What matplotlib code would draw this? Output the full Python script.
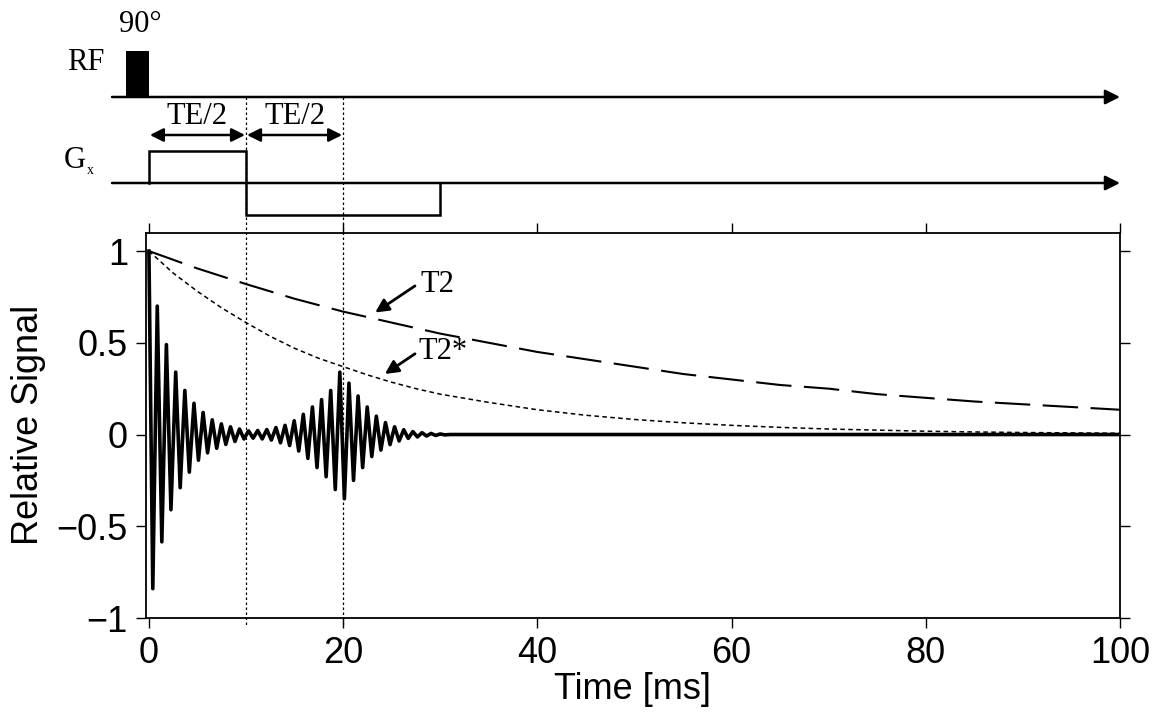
import matplotlib
matplotlib.use("Agg")
import matplotlib.pyplot as plt

# --- signal: extrema of the oscillating echo signal (ms, relative amplitude)
sig_t = [0.00, 0.40, 0.86, 1.33, 1.80, 2.27, 2.76, 3.22, 3.70, 4.16,
         4.64, 5.10, 5.58, 6.04, 6.52, 6.98, 7.46, 7.92, 8.40, 8.86,
         9.33, 9.79, 10.26, 10.73, 11.20, 11.67, 12.14, 12.61, 13.08, 13.55,
         14.02, 14.49, 14.96, 15.43, 15.90, 16.37, 16.84, 17.31, 17.78, 18.25,
         18.72, 19.19, 19.66, 20.13, 20.60, 21.07, 21.54, 22.01, 22.48, 22.95,
         23.42, 23.89, 24.36, 24.83, 25.30, 25.77, 26.24, 26.71, 27.18, 27.65,
         28.12, 28.59, 29.06, 29.53, 30.00, 30.47, 31.00, 100.0]
sig_v = [1.00, -0.84, 0.70, -0.585, 0.49, -0.41, 0.34, -0.29, 0.24, -0.205,
         0.17, -0.14, 0.12, -0.10, 0.08, -0.075, 0.058, -0.054, 0.042, -0.038,
         0.030, -0.024, 0.020, -0.020, 0.022, -0.024, 0.027, -0.030, 0.038, -0.045,
         0.050, -0.060, 0.075, -0.090, 0.11, -0.13, 0.15, -0.18, 0.19, -0.23,
         0.24, -0.30, 0.34, -0.35, 0.28, -0.25, 0.21, -0.18, 0.15, -0.12,
         0.10, -0.085, 0.065, -0.055, 0.042, -0.035, 0.026, -0.021, 0.016, -0.013,
         0.010, -0.008, 0.006, -0.005, 0.003, -0.002, 0.0, 0.0]

# --- decay envelopes
t2_t = [0, 5, 10, 15, 20, 25, 30, 35, 40, 45, 50, 55, 60, 65, 70, 75, 80, 85, 90, 95, 100]
t2_v = [1.00, 0.905, 0.82, 0.74, 0.67, 0.61, 0.55, 0.50, 0.45, 0.41, 0.37,
        0.33, 0.30, 0.27, 0.25, 0.22, 0.20, 0.18, 0.165, 0.15, 0.135]
t2s_t = [0, 2.5, 5, 7.5, 10, 12.5, 15, 17.5, 20, 22.5, 25, 27.5, 30,
         35, 40, 45, 50, 55, 60, 65, 70, 75, 80, 85, 90, 95, 100]
t2s_v = [1.0, 0.88, 0.78, 0.69, 0.61, 0.535, 0.47, 0.415, 0.37, 0.325, 0.285, 0.25, 0.22,
         0.175, 0.135, 0.105, 0.082, 0.064, 0.05, 0.039, 0.030, 0.024, 0.018, 0.014,
         0.011, 0.009, 0.007]

# --- pulse sequence timing (ms)
rf_pulse = [-2.4, 0.0]
gx_start = [0, 10]
gx_end = [10, 30]
gx_amp = [1.0, -1.0]
te_marks = [0, 10, 20]
seq_start, seq_end = -3.8, 100

xticks = [0, 20, 40, 60, 80, 100]
yticks = [-1, -0.5, 0, 0.5, 1]
ytick_labels = ["\u22121", "\u22120.5", "0", "0.5", "1"]

SANS = ["Liberation Sans", "DejaVu Sans"]
SERIF = ["Liberation Serif", "DejaVu Serif"]
W, H = 1153, 715

fig = plt.figure(figsize=(W / 100, H / 100), dpi=100)
pos = [146 / W, (H - 618) / H, (1120 - 146) / W, (618 - 232.7) / H]
ax = fig.add_axes(pos)
xlim = (-0.3, 100)

ax.plot(sig_t, sig_v, color="k", lw=2.6, solid_joinstyle="round", zorder=3)
l2, = ax.plot(t2_t, t2_v, color="k", lw=1.5)
l2.set_dashes((17, 6))
l2s, = ax.plot(t2s_t, t2s_v, color="k", lw=1.1)
l2s.set_dashes((3, 2.2))

ax.set_xlim(*xlim)
ax.set_ylim(-1, 1.1)
ax.set_xticks(xticks)
ax.set_yticks(yticks)
ax.set_yticklabels(ytick_labels)
ax.tick_params(direction="out", top=True, right=True, labeltop=False, labelright=False,
               length=7, width=1, pad=6, labelsize=26)
for lab in ax.get_xticklabels() + ax.get_yticklabels():
    lab.set_family(SANS)
for s in ax.spines.values():
    s.set_linewidth(1.3)
ax.set_xlabel("Time [ms]", fontsize=26, family=SANS, labelpad=1)
ax.set_ylabel("Relative Signal", fontsize=26, family=SANS, labelpad=8)

arrow_kw = dict(arrowstyle="-|>", lw=2.0, color="k", mutation_scale=20, shrinkA=0, shrinkB=0)
ax.annotate("", xy=(23.3, 0.665), xytext=(27.4, 0.81), arrowprops=arrow_kw)
ax.text(28.0, 0.815, "T2", fontsize=22, family=SERIF, ha="left", va="center")
ax.annotate("", xy=(24.3, 0.33), xytext=(27.4, 0.44), arrowprops=arrow_kw)
ax.text(27.8, 0.45, "T2*", fontsize=22, family=SERIF, ha="left", va="center")

# --- pulse sequence overlay, y in pixel rows from the top
seq = fig.add_axes([pos[0], 0, pos[2], 1], zorder=5)
seq.set_xlim(*xlim)
seq.set_ylim(H, 0)
seq.axis("off")

RF_BASE, RF_TOP = 97, 51
GX_BASE, GX_SCALE = 183, 32
TE_Y, TE_TEXT_Y = 135, 117

base_kw = dict(arrowstyle="-|>", lw=1.8, color="k", mutation_scale=22, shrinkA=0, shrinkB=0)
for yb in (RF_BASE, GX_BASE):
    seq.annotate("", xy=(seq_end, yb), xytext=(seq_start, yb), arrowprops=base_kw,
                 annotation_clip=False)

seq.fill_between(rf_pulse, RF_TOP, RF_BASE, color="k", lw=0, clip_on=False)

gx_x, gx_y = [], []
for s, e, a in zip(gx_start, gx_end, gx_amp):
    lvl = GX_BASE - a * GX_SCALE
    gx_x += [s, s, e, e]
    gx_y += [GX_BASE, lvl, lvl, GX_BASE]
seq.plot(gx_x, gx_y, color="k", lw=1.8, clip_on=False, solid_joinstyle="miter")

for t in te_marks[1:]:
    ln, = seq.plot([t, t], [RF_BASE, 626], color="k", lw=0.9, clip_on=False)
    ln.set_dashes((2, 2))

te_kw = dict(arrowstyle="<|-|>", lw=1.8, color="k", mutation_scale=20, shrinkA=0, shrinkB=0)
for a, b in zip(te_marks[:-1], te_marks[1:]):
    seq.annotate("", xy=(b - 0.1, TE_Y), xytext=(a + 0.1, TE_Y), arrowprops=te_kw)
    seq.text((a + b) / 2, TE_TEXT_Y, "TE/2", fontsize=22, family=SERIF, ha="center", va="center")

fig.text(140 / W, 1 - 25 / H, "90\u00b0", fontsize=22, family=SERIF, ha="center", va="center")
fig.text(104 / W, 1 - 63 / H, "RF", fontsize=22, family=SERIF, ha="right", va="center")
fig.text(86 / W, 1 - 161 / H, "G", fontsize=22, family=SERIF, ha="right", va="center")
fig.text(87 / W, 1 - 171 / H, "x", fontsize=10, family=SERIF, ha="left", va="center")

fig.savefig("out.png", dpi=100)
